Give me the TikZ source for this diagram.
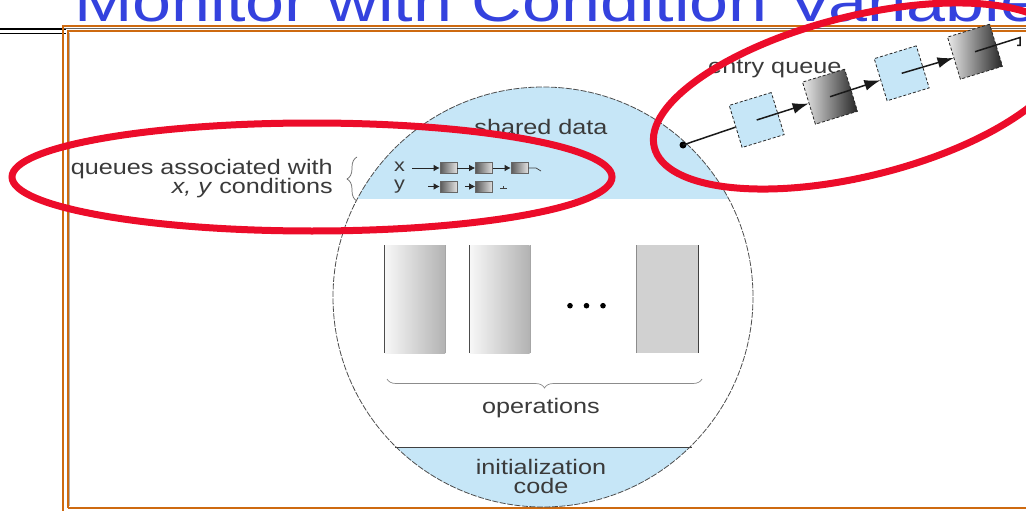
\documentclass[tikz,border=0pt]{standalone}
\usepackage{fontspec}
\setmainfont{Liberation Sans}
\usetikzlibrary{calc}
\usetikzlibrary{arrows.meta,decorations.pathreplacing}

\definecolor{titleblue}{RGB}{52,66,222}
\definecolor{frameorange}{RGB}{206,106,16}
\definecolor{monblue}{RGB}{198,230,247}
\definecolor{inkred}{RGB}{236,12,42}
\definecolor{txtgray}{RGB}{58,58,58}

\begin{document}
\begin{tikzpicture}[x=1pt, y=-1pt,
    lbl/.style={font=\fontsize{21}{21}\selectfont, text=txtgray, inner sep=0pt, xscale=1.2},
    qbox/.style={draw=black!60, line width=0.6pt, left color=black!65, right color=black!12,
        minimum width=17pt, minimum height=11pt, inner sep=0pt},
    qline/.style={black!75, line width=0.7pt},
    qarrow/.style={black!85, line width=0.7pt, -{Latex[length=6pt,width=6.5pt]}},
    ebox/.style={draw=black!85, densely dashed, line width=0.8pt, minimum size=44pt,
        inner sep=0pt, rotate=17},
    chainln/.style={black!90, line width=1.5pt},
    opbox/.style={minimum width=60pt, minimum height=108pt, inner sep=0pt},
    bracegray/.style={black!45, line width=0.7pt, decorate},
    redring/.style={inkred, line width=7pt}]

    \useasboundingbox (0,0) rectangle (1026,511);
    \clip (0,0) rectangle (1026,511);

    % slide title and frame
    \node[anchor=base west, inner sep=0pt, text=titleblue, font=\fontsize{57}{57}\selectfont, xscale=1.23]
        (title) at (74,22) {Monitor with Condition Variables};
    \draw[black, line width=1.5pt] (0,29) -- (66,29);
    \draw[black, line width=1.5pt] (0,33.5) -- (66,33.5);
    \draw[black!60, line width=1pt] (63,28.7) -- (1026,28.7);
    \draw[frameorange, line width=2pt] (63,511) -- (63,26) -- (1026,26);
    \draw[frameorange, line width=2pt] (67.5,508) -- (67.5,30.7) -- (1026,30.7);
    \draw[frameorange, line width=2pt] (67.5,508) -- (1026,508);
    \draw[black!30, line width=1pt] (69.5,33) -- (69.5,506);

    % monitor body
    \coordinate (mon) at (543,297);
    \begin{scope}
        \clip (mon) circle [radius=210];
        \fill[monblue] (330,80) rectangle (760,199);
        \fill[monblue] (330,447.7) rectangle (760,520);
    \end{scope}
    \draw[black!75, line width=1.3pt] (395,447.7) -- (692,447.7);
    \draw[black!70, line width=0.8pt, dash pattern=on 6pt off 1.5pt] (mon) circle [radius=210];

    % shared data
    \node[lbl, anchor=base] (shd) at (541,134) {shared data};
    \node[lbl, anchor=base east] (qlbl1) at (333,174) {queues associated with};
    \node[lbl, anchor=base east] (qlbl2) at (333,193) {\textit{x, y} conditions};
    \draw[bracegray, black!60, decoration={brace, amplitude=10pt}] (357,201) -- (357,157);

    % condition queues
    \node[lbl, font=\fontsize{18}{18}\selectfont, anchor=base west] (xlbl) at (394,171) {x};
    \node[lbl, font=\fontsize{18}{18}\selectfont, anchor=base west] (ylbl) at (394,189) {y};
    \node[qbox] (qx1) at (448.5,168) {};
    \node[qbox] (qx2) at (484,168) {};
    \node[qbox] (qx3) at (519.5,168) {};
    \node[qbox] (qy1) at (448.5,186.5) {};
    \node[qbox] (qy2) at (484,186.5) {};
    \coordinate (xq0) at (412,168);
    \coordinate (yq0) at (428,186.5);
    \coordinate (xtail) at (536,168);
    \coordinate (ytail) at (500,188);
    \draw[qarrow] (xq0) -- (qx1);
    \draw[qarrow] (qx1) -- (qx2);
    \draw[qarrow] (qx2) -- (qx3);
    \draw[qline] (qx3) -- (xtail) -- ++(5,3);
    \draw[qarrow] (yq0) -- (qy1);
    \draw[qarrow, shorten <=8pt] (qy1) -- (qy2);
    \draw[qline] (ytail) -- ++(7,0) (ytail) ++(3,-2) -- ++(0,3);

    % entry queue
    \node[lbl, anchor=base west] (entry) at (708,74) {entry queue};
    \coordinate (eqdot) at (683,145);
    \coordinate (etail) at (1020,37.5);
    \node[ebox, fill=monblue] (e1) at (756.7,120) {};
    \node[ebox, left color=black!8, right color=black!85] (e2) at (830,96.7) {};
    \node[ebox, fill=monblue] (e3) at (901.7,73.3) {};
    \node[ebox, left color=black!8, right color=black!85] (e4) at (975,51.7) {};
    \fill[black] (eqdot) circle [radius=3.5];
    \draw[chainln] (eqdot) -- (e1);
    \draw[chainln, -{Latex[length=16pt,width=11pt]}] (e1.center) -- (e2);
    \draw[chainln, -{Latex[length=16pt,width=11pt]}] (e2.center) -- (e3);
    \draw[chainln, -{Latex[length=16pt,width=11pt]}] (e3.center) -- (e4);
    \draw[chainln] (e4.center) -- (etail) -- ++(0,8) -- ++(-3,0);

    % operations
    \node[opbox, left color=black!3, right color=black!30] (op1) at (415,299.2) {};
    \node[opbox, left color=black!3, right color=black!30] (op2) at (499.7,299.2) {};
    \node[opbox, minimum width=61pt, fill=black!18] (op3) at (667.5,299.2) {};
    \draw[black!70, line width=1pt] (op1.north west) -- (op1.south west);
    \draw[black!35, line width=0.8pt] (op1.north east) -- (op1.south east);
    \draw[black!70, line width=1pt] (op2.north west) -- (op2.south west);
    \draw[black!35, line width=0.8pt] (op2.north east) -- (op2.south east);
    \draw[black!45, line width=0.8pt] (op3.north west) -- (op3.south west);
    \draw[black!75, line width=1pt] (op3.north east) -- (op3.south east);
    \fill[black] (570,305.7) circle [radius=2.8];
    \fill[black] (586.5,305.7) circle [radius=2.8];
    \fill[black] (603,305.7) circle [radius=2.8];
    \draw[bracegray, decoration={brace, amplitude=9pt}] (702,379) -- (387,379);
    \node[lbl, anchor=base] (ops) at (541,413.5) {operations};

    % initialization code
    \node[lbl, anchor=base] (init1) at (541,474) {initialization};
    \node[lbl, anchor=base] (init2) at (541,493) {code};

    % red marks
    \draw[redring] (312,177) ellipse [x radius=300, y radius=54];
    \draw[redring, rotate around={14:(860,96)}] (860,96) ellipse [x radius=212, y radius=80];

\end{tikzpicture}
\end{document}
